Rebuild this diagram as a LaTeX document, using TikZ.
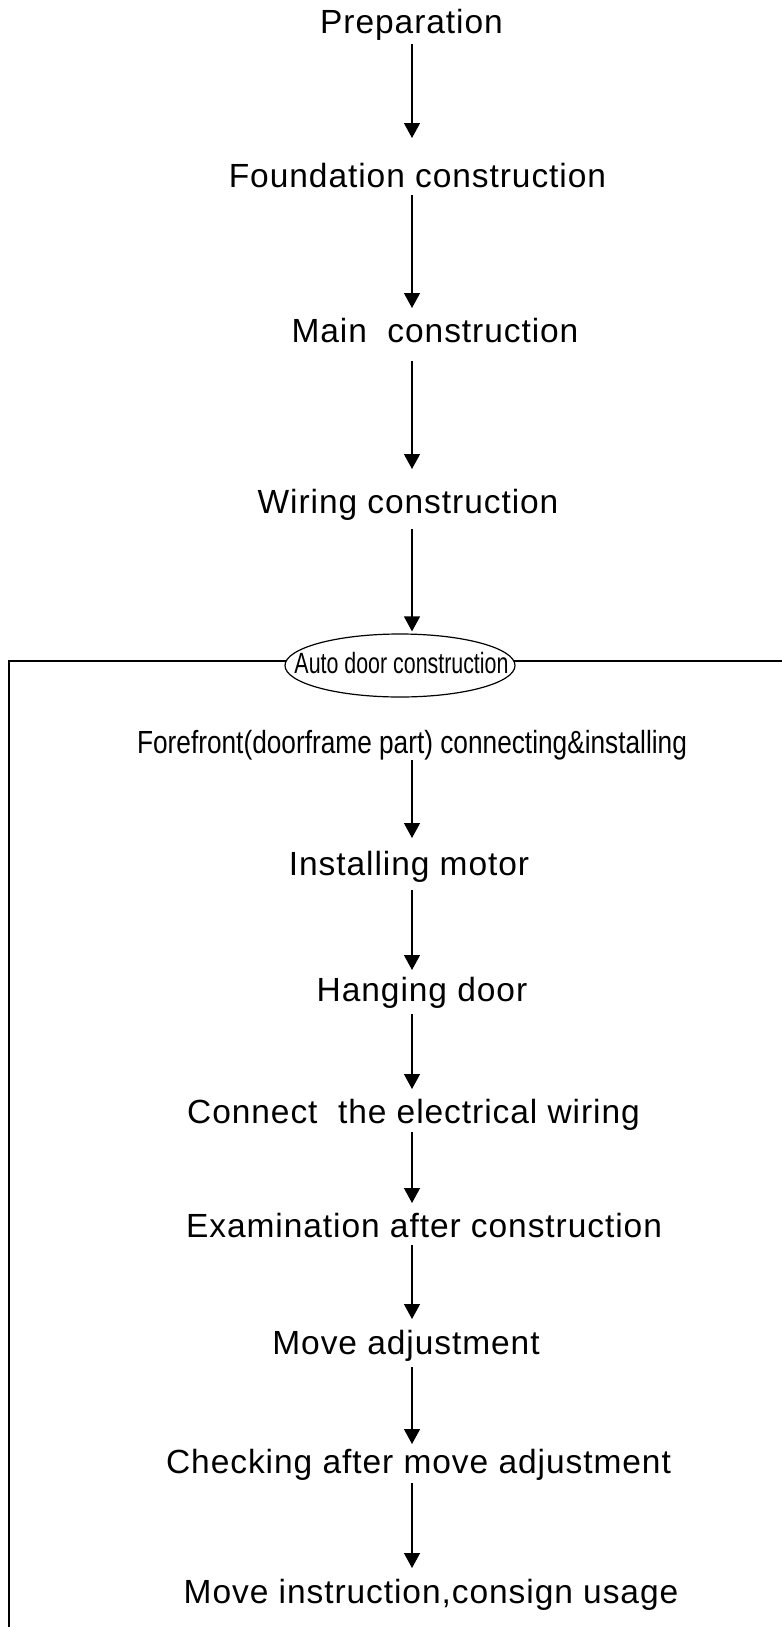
\documentclass[tikz,border=0pt]{standalone}
\usepackage{fontspec}
\setmainfont{Liberation Sans}
\newfontfamily\spaced{Liberation Sans}[LetterSpace=2.8]
\newfontfamily\narrowA{Liberation Sans}[FakeStretch=0.82]
\newfontfamily\narrowB{Liberation Sans}[FakeStretch=0.73]
\usetikzlibrary{arrows.meta,shapes.geometric,calc}
\begin{document}
\begin{tikzpicture}[x=1bp,y=-1bp,
  lbl/.style={anchor=base,inner sep=0,font=\spaced\fontsize{33.5bp}{40bp}\selectfont},
  nlbl/.style={anchor=base,inner sep=0,font=\narrowA\fontsize{32bp}{38bp}\selectfont},
  arr/.style={line width=1.3bp,-{Triangle[width=16bp,length=15bp]}},
  framel/.style={line width=1.5bp},
  ovalbox/.style={ellipse,draw,line width=1.2bp,fill=white,minimum width=230bp,minimum height=63bp,inner sep=0}]
\useasboundingbox (0,0) rectangle (782,1627);
\coordinate (ax) at (412,0);
% frame
\coordinate (fr) at (782,661);
\coordinate (fl) at (9,661);
\coordinate (fb) at (9,1627);
\draw[framel] (fr) -- (fl) -- (fb);
% nodes
\node[lbl] (p1) at (411.5,34) {Preparation};
\node[lbl] (p2) at (417.5,187) {Foundation construction};
\node[lbl] (p3) at (435,342) {Main\ \ construction};
\node[lbl] (p4) at (408,513) {Wiring construction};
\node[ovalbox] (ell) at (400,665.5) {};
\node[anchor=base,inner sep=0,font=\narrowB\fontsize{29.3bp}{35bp}\selectfont] (elltext) at (401.5,673) {Auto door construction};
\node[nlbl] (p5) at (412,753) {Forefront(doorframe part) connecting\&installing};
\node[lbl] (p6) at (409,875) {Installing motor};
\node[lbl] (p7) at (422,1001) {Hanging door};
\node[lbl] (p8) at (413.5,1123) {Connect\ \ the electrical wiring};
\node[lbl] (p9) at (424,1237) {Examination after construction};
\node[lbl] (p10) at (406,1354) {Move adjustment};
\node[lbl] (p11) at (418.5,1473) {Checking after move adjustment};
\node[lbl] (p12) at (431,1603) {Move instruction,consign usage};
% arrows
\draw[arr] ($(p1.base -| ax)+(0,10)$) -- ($(p2.base -| ax)+(0,-49)$);
\draw[arr] ($(p2.base -| ax)+(0,8)$) -- ($(p3.base -| ax)+(0,-34)$);
\draw[arr] ($(p3.base -| ax)+(0,19)$) -- ($(p4.base -| ax)+(0,-44)$);
\draw[arr] ($(p4.base -| ax)+(0,16)$) -- ($(ell.north -| ax)+(0,-2)$);
\draw[arr] ($(p5.base -| ax)+(0,7)$) -- ($(p6.base -| ax)+(0,-37)$);
\draw[arr] ($(p6.base -| ax)+(0,15)$) -- ($(p7.base -| ax)+(0,-31)$);
\draw[arr] ($(p7.base -| ax)+(0,13)$) -- ($(p8.base -| ax)+(0,-34)$);
\draw[arr] ($(p8.base -| ax)+(0,9)$) -- ($(p9.base -| ax)+(0,-34)$);
\draw[arr] ($(p9.base -| ax)+(0,8)$) -- ($(p10.base -| ax)+(0,-35)$);
\draw[arr] ($(p10.base -| ax)+(0,13)$) -- ($(p11.base -| ax)+(0,-29)$);
\draw[arr] ($(p11.base -| ax)+(0,10)$) -- ($(p12.base -| ax)+(0,-35)$);
\end{tikzpicture}
\end{document}
